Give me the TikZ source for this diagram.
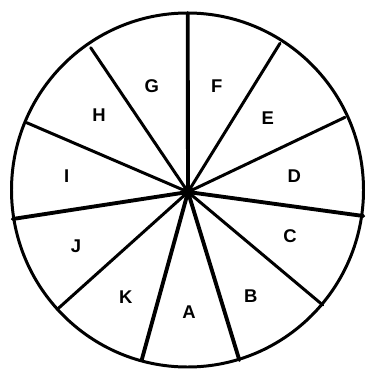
\documentclass[tikz,border=0pt]{standalone}
\usepackage{fontspec}
\setmainfont{Liberation Sans}
\usetikzlibrary{positioning}

\begin{document}
\begin{tikzpicture}[
    x=0.02cm, y=-0.02cm,
    rim/.style={line width=1.7pt},
    spoke/.style={line width=1.7pt, line cap=round},
    thickspoke/.style={line width=2.2pt, line cap=round},
    sector/.style={font=\fontsize{10.5}{12}\selectfont\bfseries, inner sep=0pt}
]
\useasboundingbox (0,0) rectangle (368,371);

\coordinate (hub) at (188,192);
\draw[rim] (187.5,190) circle [x radius=176, y radius=177];

% rim points of the spokes
\foreach \name/\px/\py in {t/187.7/13, e1/280/43.3, e2/345/117.3, r/363.3/216,
    c1/322.7/305, b1/239.3/360, a1/141.7/360, k1/57.3/309.3, l/12.7/219,
    i1/26.7/122.7, h1/90.7/47.7}
    \coordinate (\name) at (\px,\py);

\foreach \name in {e1,e2,c1,k1,i1,h1}
    \draw[spoke] (hub) -- (\name);
\foreach \name in {t,r,b1,a1,l}
    \draw[thickspoke] (hub) -- (\name);

\fill (hub) circle [radius=6];

% sector letters
\node[sector] (g) at (151.7,86) {G};
\node[sector] (f) at (216.7,86) {F};
\node[sector] (h) at (99,115) {H};
\node[sector] (e) at (267.7,118.3) {E};
\node[sector] (i) at (66.7,176) {I};
\node[sector] (d) at (294.3,176) {D};
\node[sector] (j) at (76,246) {J};
\node[sector] (c) at (290,236) {C};
\node[sector] (k) at (125.7,296.7) {K};
\node[sector] (a) at (189,311.7) {A};
\node[sector] (b) at (250.7,296) {B};
\end{tikzpicture}
\end{document}
